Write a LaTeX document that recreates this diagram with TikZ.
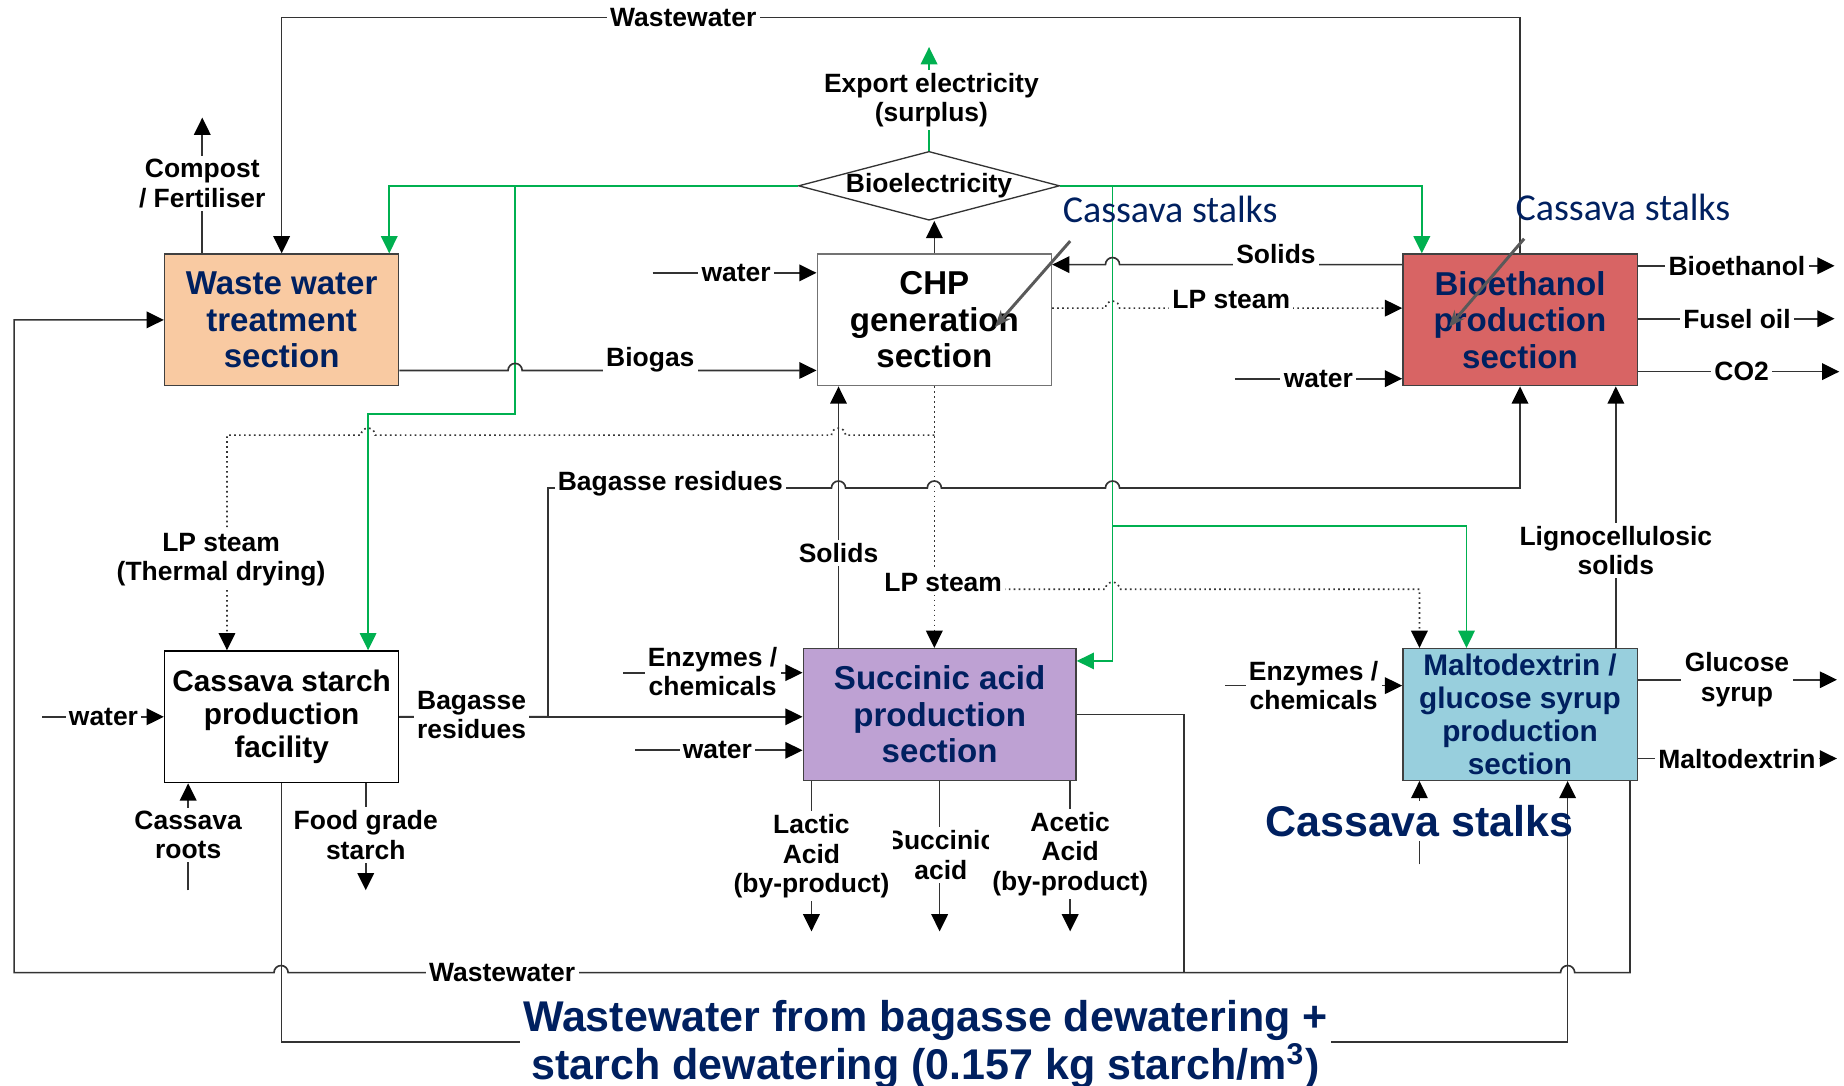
\documentclass[tikz,border=0pt]{standalone}
\usepackage{fontspec}
\setmainfont{Liberation Sans}
\newfontfamily\calfont{Carlito}
\usepackage{xcolor}
\usetikzlibrary{arrows.meta,shapes.geometric}

\definecolor{navy}{HTML}{002060}
\definecolor{wwfill}{HTML}{F9CAA2}
\definecolor{ethfill}{HTML}{D86464}
\definecolor{sucfill}{HTML}{BEA1D3}
\definecolor{malfill}{HTML}{98CFDD}
\definecolor{elgreen}{HTML}{00B050}

\begin{document}
\begin{tikzpicture}[x=0.0125cm, y=-0.0125cm,
  sbox/.style={rectangle, draw=black!75, align=center, minimum width=2.49cm, minimum height=1.4cm,
    font=\bfseries\fontsize{10}{11}\selectfont, inner sep=0.5pt},
  elecd/.style={diamond, draw=black!80, aspect=3.76, minimum width=2.775cm, inner sep=0pt,
    font=\bfseries\fontsize{8}{9}\selectfont},
  lbl/.style={fill=white, inner sep=1pt, align=center, font=\bfseries\fontsize{8}{8.9}\selectfont},
  biglbl/.style={inner sep=1pt, align=center, text=navy, font=\bfseries\fontsize{13}{14.5}\selectfont},
  note/.style={inner sep=0pt, text=navy, font=\calfont\fontsize{11.5}{13}\selectfont},
  ln/.style={draw=black!80, line width=0.5pt},
  arr/.style={ln, -{Triangle[length=5.2pt,width=5pt,color=black]}},
  darr/.style={arr, densely dotted},
  garr/.style={draw=elgreen, line width=0.5pt, -{Triangle[length=5.2pt,width=5pt]}},
  callout/.style={draw=black!65, line width=0.9pt, -{Stealth[length=5pt,width=4pt]}}
]
\useasboundingbox (0,0) rectangle (1568,923);

% process sections
\node[sbox, fill=wwfill, text=navy] (wwt) at (239.5,272) {Waste water\\treatment\\section};
\node[sbox, draw=black!55] (chp) at (794.5,272) {CHP\\generation\\section};
\node[sbox, fill=ethfill, text=navy] (bioeth) at (1292.5,272) {Bioethanol\\production\\section};
\node[sbox, draw=black, font=\bfseries\fontsize{9}{10}\selectfont] (starch) at (239.5,609.5) {Cassava starch\\production\\facility};
\node[sbox, fill=sucfill, text=navy, minimum width=2.9cm] (succ) at (799,607.5) {Succinic acid\\production\\section};
\node[sbox, fill=malfill, text=navy, inner sep=0pt, font=\bfseries\fontsize{9}{9.9}\selectfont] (malto) at (1292.5,607.5) {Maltodextrin /\\glucose syrup\\production\\section};
\node[elecd] (elec) at (790,158) {Bioelectricity};

% free ends and junctions
\coordinate (compost) at (172,100);
\coordinate (export) at (790,40);
\coordinate (wchp) at (555,232);
\coordinate (wbio) at (1050,322);
\coordinate (oeth) at (1560,226);
\coordinate (ofus) at (1560,271);
\coordinate (oco2) at (1564,316);
\coordinate (wst) at (36,609.5);
\coordinate (roots) at (160,757);
\coordinate (food) at (311,757);
\coordinate (enz1) at (530,572);
\coordinate (wsuc) at (540,638);
\coordinate (lac) at (690,792);
\coordinate (sucout) at (799,792);
\coordinate (acet) at (910,792);
\coordinate (enz2) at (1042,583);
\coordinate (oglu) at (1562,578);
\coordinate (omal) at (1562,645);
\coordinate (csb) at (1207,735);
\coordinate (gl) at (438,158);
\coordinate (gr) at (946,158);
\coordinate (gm) at (946,447);
\coordinate (cs1a) at (910,205);
\coordinate (cs1b) at (846,278);
\coordinate (cs2a) at (1296,203);
\coordinate (cs2b) at (1232,278);

% electricity
\draw[arr] (chp.north) -- (chp.north |- elec.south);
\draw[garr] (elec.north) -- (export);
\draw[garr] (elec.west) -| (wwt.north -| 331,0);
\draw[garr] (gl) |- (313,352) -- (starch.north -| 313,0);
\draw[garr] (elec.east) -| (bioeth.north -| 1209,0);
\draw[garr] (gr) -- (946,562) -- (succ.east |- 0,562);
\draw[garr] (gm) -| (malto.north -| 1247,0);

% waste water section
\draw[arr] (bioeth.north) -- (bioeth.north |- 0,15) -| (wwt.north);
\draw[arr] (wwt.north -| compost) -- (compost);
\draw[arr] (wwt.east |- 0,315) -- (432,315) arc[start angle=180,end angle=360,radius=6] -- (chp.west |- 0,315);

% CHP section
\draw[arr] (wchp) -- (chp.west |- wchp);
\draw[arr] (bioeth.west |- 0,225) -- (952,225) arc[start angle=0,end angle=-180,radius=6] -- (chp.east |- 0,225);
\draw[darr] (chp.east |- 0,262) -- (940,262) arc[start angle=180,end angle=360,radius=6] -- (bioeth.west |- 0,262);
\draw[darr] (chp.south) -- (chp.south |- succ.north);
\draw[darr] (chp.south |- 0,370) -- (719,370) arc[start angle=0,end angle=-180,radius=6]
  -- (319,370) arc[start angle=0,end angle=-180,radius=6] -| (starch.north -| 193,0);
\draw[darr] (chp.south |- 0,501) -- (940,501) arc[start angle=180,end angle=360,radius=6] -| (malto.north -| 1207,0);

% bioethanol section
\draw[arr] (wbio) -- (bioeth.west |- wbio);
\draw[arr] (bioeth.east |- oeth) -- (oeth);
\draw[arr] (bioeth.east |- ofus) -- (ofus);
\draw[arr] (bioeth.east |- oco2) -- (oco2);
\draw[callout] (cs1a) -- (cs1b);
\draw[callout] (cs2a) -- (cs2b);

% starch facility
\draw[arr] (wst) -- (starch.west);
\draw[arr] (roots) -- (starch.south -| roots);
\draw[arr] (starch.south -| food) -- (food);
\draw[arr] (starch.east) -| (466,415) -- (707,415) arc[start angle=180,end angle=360,radius=6]
  -- (788.5,415) arc[start angle=180,end angle=360,radius=6]
  -- (940,415) arc[start angle=180,end angle=360,radius=6] -| (bioeth.south);
\draw[arr] (starch.east) -- (succ.west |- starch.east);

% succinic acid section
\draw[arr] (succ.north -| 713,0) -- (chp.south -| 713,0);
\draw[arr] (enz1) -- (succ.west |- enz1);
\draw[arr] (wsuc) -- (succ.west |- wsuc);
\draw[arr] (succ.south -| lac) -- (lac);
\draw[arr] (succ.south -| sucout) -- (sucout);
\draw[arr] (succ.south -| acet) -- (acet);
\draw[ln] (succ.east) -| (1007,827);

% maltodextrin section
\draw[arr] (enz2) -- (malto.west |- enz2);
\draw[arr] (malto.east |- oglu) -- (oglu);
\draw[arr] (malto.east |- omal) -- (omal);
\draw[arr] (malto.north -| 1374,0) -- (bioeth.south -| 1374,0);

% wastewater return lines
\draw[arr] (malto.south -| 1386,0) |- (1339,827) arc[start angle=0,end angle=-180,radius=6]
  -- (245,827) arc[start angle=0,end angle=-180,radius=6] -- (12,827) |- (wwt.west);
\draw[arr] (starch.south) |- (1333,886) -- (malto.south -| 1333,0);

% stream labels
\node[lbl] (lww1) at (581,15) {Wastewater};
\node[lbl] (lcomp) at (172,156) {Compost\\/ Fertiliser};
\node[lbl] (lexp) at (792,85) {Export electricity\\(surplus)};
\node[lbl] (lwchp) at (626,232) {water};
\node[lbl] (lbiog) at (553,306) {Biogas};
\node[lbl] (lsol1) at (1085,216) {Solids};
\node[lbl] (llp1) at (1047,255) {LP steam};
\node[lbl] (lwbio) at (1121,322) {water};
\node[lbl] (leth) at (1477,226) {Bioethanol};
\node[lbl] (lfus) at (1477,271) {Fusel oil};
\node[lbl] (lco2) at (1481,316) {CO2};
\node[lbl] (llp2) at (188,476) {LP steam\\(Thermal drying)};
\node[lbl] (lbag1) at (570,411) {Bagasse residues};
\node[lbl] (lsol2) at (713,470) {Solids};
\node[lbl] (llp3) at (802,495) {LP steam};
\node[lbl] (llig) at (1374,468) {Lignocellulosic\\solids};
\node[lbl] (lwst) at (88,609.5) {water};
\node[lbl] (lbag2) at (401,608) {Bagasse\\residues};
\node[lbl] (lenz1) at (606,571) {Enzymes /\\chemicals};
\node[lbl] (lwsuc) at (610,638) {water};
\node[lbl] (lenz2) at (1117,583) {Enzymes /\\chemicals};
\node[lbl] (lglu) at (1477,578) {Glucose\\syrup};
\node[lbl] (lmal) at (1477,645) {Maltodextrin};
\node[lbl] (lroot) at (160,710) {Cassava\\roots};
\node[lbl] (lfood) at (311,710) {Food grade\\starch};
\node[lbl] (lsuc) at (800,727) {Succinic\\acid};
\node[lbl] (llac) at (690,728) {Lactic\\Acid\\(by-product)};
\node[lbl] (lace) at (910,726) {Acetic\\Acid\\(by-product)};
\node[lbl] (lww2) at (427,827) {Wastewater};
\node[biglbl, fill=white] (lww3) at (787,888) {Wastewater from bagasse dewatering +\\starch dewatering (0.157 kg starch/m\textsuperscript{3})};

% cassava stalks notes
\node[note] (cs1) at (995,178) {Cassava stalks};
\node[note] (cs2) at (1380,176) {Cassava stalks};
\node[biglbl] (cs3) at (1207,698) {Cassava stalks};
\draw[arr] (cs3.north -| csb) -- (malto.south -| csb);
\draw[ln] (csb) -- (cs3.south -| csb);

\end{tikzpicture}
\end{document}
